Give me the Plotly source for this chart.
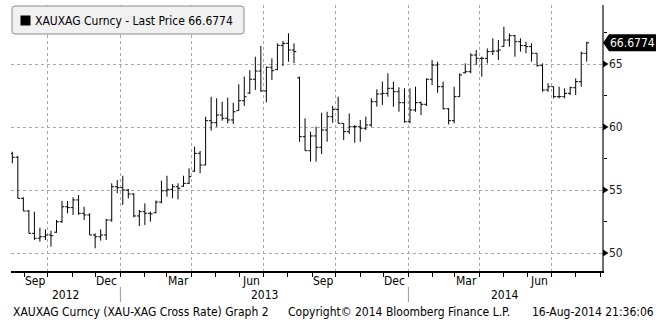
import plotly.graph_objects as go
import pandas as pd

# ---------------- data (weekly bars, XAUXAG) ----------------
week_ending = pd.date_range("2012-08-17", periods=105, freq="W-FRI")

opens = [57.90, 57.60, 54.34, 53.33, 51.56, 51.17, 51.29, 51.43, 51.65, 52.48,
         53.67, 53.60, 54.21, 53.15, 53.02, 51.43, 51.29, 51.43, 52.62, 55.26,
         55.19, 55.00, 54.68, 52.94, 53.28, 53.15, 53.20, 54.04, 54.94, 55.05,
         55.26, 55.30, 55.53, 56.50, 57.91, 56.98, 60.50, 60.34, 60.95, 60.69,
         60.56, 61.30, 62.09, 62.70, 63.79, 64.44, 62.86, 64.74, 64.55, 66.48,
         66.64, 66.11, 63.90, 59.23, 58.12, 59.29, 58.39, 59.76, 60.82, 61.40,
         60.29, 59.63, 60.02, 60.02, 59.90, 60.16, 62.01, 62.62, 62.67, 63.07,
         62.80, 61.93, 60.42, 61.35, 61.93, 61.80, 63.79, 64.92, 63.20, 61.45,
         60.50, 62.41, 64.30, 64.39, 65.71, 65.45, 65.45, 65.98, 66.03, 66.40,
         66.90, 67.25, 66.77, 66.46, 66.38, 65.85, 64.87, 62.94, 63.20, 62.41,
         62.41, 62.67, 63.12, 63.60, 65.85]

highs = [58.04, 57.70, 54.42, 53.41, 53.28, 52.01, 51.88, 51.77, 52.62, 54.13,
         54.13, 54.42, 54.60, 53.67, 53.15, 51.56, 51.88, 52.70, 55.53, 55.79,
         56.13, 55.08, 54.74, 53.41, 53.94, 53.28, 54.17, 55.74, 56.13, 55.48,
         55.53, 56.13, 56.72, 58.44, 58.10, 60.82, 62.40, 62.28, 62.01, 62.33,
         61.93, 63.39, 64.00, 64.52, 65.58, 66.43, 64.79, 65.45, 66.64, 66.83,
         67.44, 66.64, 64.00, 60.69, 59.63, 60.03, 61.13, 61.21, 61.67, 62.40,
         60.29, 61.08, 60.16, 60.56, 60.82, 62.28, 62.99, 63.60, 64.26, 63.60,
         63.15, 63.07, 63.07, 63.20, 62.01, 63.86, 65.32, 65.18, 63.60, 61.50,
         63.20, 64.26, 65.05, 65.85, 66.11, 65.58, 66.24, 67.04, 66.90, 67.96,
         67.43, 67.30, 67.04, 66.77, 66.64, 65.85, 65.05, 63.47, 63.20, 63.20,
         63.07, 63.20, 63.86, 65.98, 66.77]

lows = [57.12, 54.34, 53.33, 51.56, 51.03, 50.90, 51.03, 50.50, 51.61, 52.40,
        53.15, 53.02, 53.02, 52.62, 51.43, 50.37, 50.98, 51.03, 52.48, 54.74,
        53.81, 54.34, 52.83, 52.14, 52.22, 52.48, 53.15, 53.94, 54.47, 54.34,
        54.26, 55.26, 55.48, 56.45, 56.33, 56.98, 59.71, 60.02, 60.50, 60.29,
        60.24, 61.29, 61.67, 62.62, 62.94, 62.80, 61.96, 63.73, 64.52, 64.84,
        65.18, 65.06, 58.83, 58.12, 57.25, 57.25, 57.86, 58.83, 60.34, 60.29,
        58.97, 59.44, 58.75, 58.83, 59.76, 60.02, 61.61, 61.75, 62.41, 61.61,
        61.21, 60.34, 60.29, 61.21, 60.95, 61.67, 63.33, 62.72, 61.40, 60.20,
        60.29, 62.41, 64.26, 64.26, 64.92, 63.99, 65.05, 65.71, 65.32, 66.38,
        66.38, 65.58, 65.98, 65.85, 65.19, 64.79, 62.80, 62.80, 62.27, 62.27,
        62.27, 62.54, 62.54, 63.20, 65.19]

closes = [57.60, 54.34, 53.33, 51.56, 51.17, 51.29, 51.43, 51.37, 52.48, 53.67,
          53.60, 54.21, 53.15, 53.02, 51.43, 51.29, 51.43, 52.62, 55.26, 55.19,
          55.00, 54.68, 52.94, 53.28, 53.15, 53.10, 54.04, 54.94, 55.05, 55.26,
          55.13, 55.53, 56.06, 57.91, 56.98, 60.50, 60.34, 60.95, 60.69, 60.56,
          61.21, 62.09, 62.40, 63.79, 64.44, 62.86, 64.74, 64.47, 66.48, 66.64,
          66.11, 65.98, 59.23, 58.12, 59.29, 58.39, 59.76, 60.82, 61.40, 60.29,
          59.63, 60.02, 60.02, 59.90, 60.16, 62.01, 62.62, 62.67, 63.07, 62.80,
          61.93, 60.42, 61.35, 61.93, 61.80, 63.79, 64.92, 63.20, 61.45, 60.50,
          62.41, 64.13, 64.39, 65.71, 65.45, 65.45, 65.98, 66.03, 66.11, 66.90,
          67.25, 66.77, 66.46, 66.38, 65.85, 64.87, 62.94, 63.20, 62.41, 62.41,
          62.67, 63.12, 63.60, 65.85, 66.68]

last_price = 66.6774
legend_text = "XAUXAG Curncy - Last Price 66.6774"
ytick_vals = [50, 55, 60, 65]
ytick_text = ["50", "55", "60", "65"]
quarter_starts = ["2012-10-01", "2013-01-01", "2013-04-01", "2013-07-01",
                  "2013-10-01", "2014-01-01", "2014-04-01", "2014-07-01"]
month_labels = ["Sep", "Dec", "Mar", "Jun", "Sep", "Dec", "Mar", "Jun"]
month_label_dates = ["2012-09-15", "2012-12-15", "2013-03-15", "2013-06-15",
                     "2013-09-15", "2013-12-15", "2014-03-15", "2014-06-15"]
year_labels = ["2012", "2013", "2014"]
year_breaks = ["2013-01-01", "2014-01-01"]
footer_texts = ["XAUXAG Curncy (XAU-XAG Cross Rate) Graph 2",
                "Copyright\u00a9 2014 Bloomberg Finance L.P.",
                "16-Aug-2014 21:36:06"]

# ---------------- geometry ----------------
W, H = 660, 329
PL, PR, PT, PB = 11, 602, 5, 271
x_range = [pd.Timestamp("2012-08-15 08:24"), pd.Timestamp("2014-09-03 08:24")]
y_range = [48.5714, 69.6825]
FONT = "DejaVu Sans Condensed, DejaVu Sans, sans-serif"


def fx(p):
    return (p - PL) / (PR - PL)


def fy(p):
    return (PB - p) / (PB - PT)


def ypix(v):
    return PB - (v - y_range[0]) / (y_range[1] - y_range[0]) * (PB - PT)


def rrect(x0, y0, x1, y1, r):
    return (f"M {fx(x0 + r)},{fy(y0)} L {fx(x1 - r)},{fy(y0)} "
            f"Q {fx(x1)},{fy(y0)} {fx(x1)},{fy(y0 + r)} L {fx(x1)},{fy(y1 - r)} "
            f"Q {fx(x1)},{fy(y1)} {fx(x1 - r)},{fy(y1)} L {fx(x0 + r)},{fy(y1)} "
            f"Q {fx(x0)},{fy(y1)} {fx(x0)},{fy(y1 - r)} L {fx(x0)},{fy(y0 + r)} "
            f"Q {fx(x0)},{fy(y0)} {fx(x0 + r)},{fy(y0)} Z")


fig = go.Figure()
fig.add_trace(go.Ohlc(
    x=week_ending, open=opens, high=highs, low=lows, close=closes,
    increasing=dict(line=dict(color="#000000", width=1)),
    decreasing=dict(line=dict(color="#000000", width=1)),
    tickwidth=0.42, hoverinfo="skip", showlegend=False,
))

shapes = []
annotations = []

# legend box
shapes.append(dict(type="path", xref="paper", yref="paper",
                   path=rrect(12, 6, 244, 34, 3),
                   fillcolor="#f1f1f1", line=dict(color="#8a8a8a", width=1)))
shapes.append(dict(type="rect", xref="paper", yref="paper",
                   x0=fx(20.5), x1=fx(30.5), y0=fy(15.5), y1=fy(25.5),
                   fillcolor="#000000", line=dict(width=0)))
annotations.append(dict(xref="paper", yref="paper", x=fx(34), y=fy(20.5),
                        xanchor="left", yanchor="middle", showarrow=False,
                        text=legend_text, borderpad=0,
                        font=dict(family=FONT, size=12, color="#000000")))

# y tick triangles and labels
for v, t in zip(ytick_vals, ytick_text):
    yc = ypix(v)
    shapes.append(dict(type="path", xref="paper", yref="paper",
                       path=f"M {fx(603)},{fy(yc - 3.5)} L {fx(608.5)},{fy(yc)} L {fx(603)},{fy(yc + 3.5)} Z",
                       fillcolor="#000000", line=dict(width=0)))
    annotations.append(dict(xref="paper", yref="paper", x=fx(607.5), y=fy(yc),
                            xanchor="left", yanchor="middle", showarrow=False,
                            text=t, borderpad=0,
                            font=dict(family=FONT, size=12, color="#1a1a1a")))

# last price tag
yc = ypix(last_price)
shapes.append(dict(type="path", xref="paper", yref="paper",
                   path=(f"M {fx(603)},{fy(yc)} L {fx(609)},{fy(yc - 8.5)} L {fx(656)},{fy(yc - 8.5)} "
                         f"L {fx(656)},{fy(yc + 8.5)} L {fx(609)},{fy(yc + 8.5)} Z"),
                   fillcolor="#000000", line=dict(width=0)))
annotations.append(dict(xref="paper", yref="paper", x=fx(632.5), y=fy(yc),
                        xanchor="center", yanchor="middle", showarrow=False,
                        text=f"{last_price:.4f}", borderpad=0,
                        font=dict(family=FONT, size=12, color="#ffffff")))

# month labels
for d, t in zip(month_label_dates, month_labels):
    annotations.append(dict(xref="x", yref="paper", x=d, y=fy(281),
                            xanchor="center", yanchor="middle", showarrow=False,
                            text=t, borderpad=0,
                            font=dict(family=FONT, size=12, color="#000000")))

# year labels and separators
bounds = [x_range[0]] + [pd.Timestamp(b) for b in year_breaks] + [x_range[1]]
for i, t in enumerate(year_labels):
    mid = bounds[i] + (bounds[i + 1] - bounds[i]) / 2
    annotations.append(dict(xref="x", yref="paper", x=mid, y=fy(294.5),
                            xanchor="center", yanchor="middle", showarrow=False,
                            text=t, borderpad=0,
                            font=dict(family=FONT, size=12, color="#000000")))
for b in year_breaks:
    shapes.append(dict(type="line", xref="x", yref="paper", x0=b, x1=b,
                       y0=fy(287), y1=fy(302), line=dict(color="#9a9a9a", width=1)))

# footer
for t, xp in zip(footer_texts, [12, 287, 531]):
    annotations.append(dict(xref="paper", yref="paper", x=fx(xp), y=fy(312),
                            xanchor="left", yanchor="middle", showarrow=False,
                            text=t, borderpad=0,
                            font=dict(family=FONT, size=12, color="#000000")))

fig.update_layout(
    width=W, height=H,
    margin=dict(l=PL, r=W - PR, t=PT, b=H - PB, pad=0),
    paper_bgcolor="#ffffff", plot_bgcolor="#ffffff",
    showlegend=False,
    shapes=shapes, annotations=annotations,
    xaxis=dict(
        type="date", range=x_range,
        rangeslider=dict(visible=False),
        tickmode="array", tickvals=quarter_starts, showticklabels=False,
        ticks="outside", ticklen=4, tickcolor="#000000", tickwidth=1,
        showgrid=True, gridcolor="#a8a8a8", griddash="dot", gridwidth=1,
        showline=True, linecolor="#000000", linewidth=2,
        zeroline=False,
        minor=dict(ticks="outside", ticklen=4, tickcolor="#000000", tickwidth=1,
                   dtick="M1", tick0="2012-08-01", showgrid=False),
    ),
    yaxis=dict(
        side="right", range=y_range,
        tickmode="array", tickvals=ytick_vals, showticklabels=False,
        ticks="",
        showgrid=True, gridcolor="#a8a8a8", griddash="dot", gridwidth=1,
        showline=True, linecolor="#6e6e6e", linewidth=2,
        zeroline=False,
        minor=dict(ticks="outside", ticklen=3, tickcolor="#000000", tickwidth=1,
                   dtick=2.5, tick0=52.5, showgrid=False),
    ),
)

fig.write_html("out.html")
